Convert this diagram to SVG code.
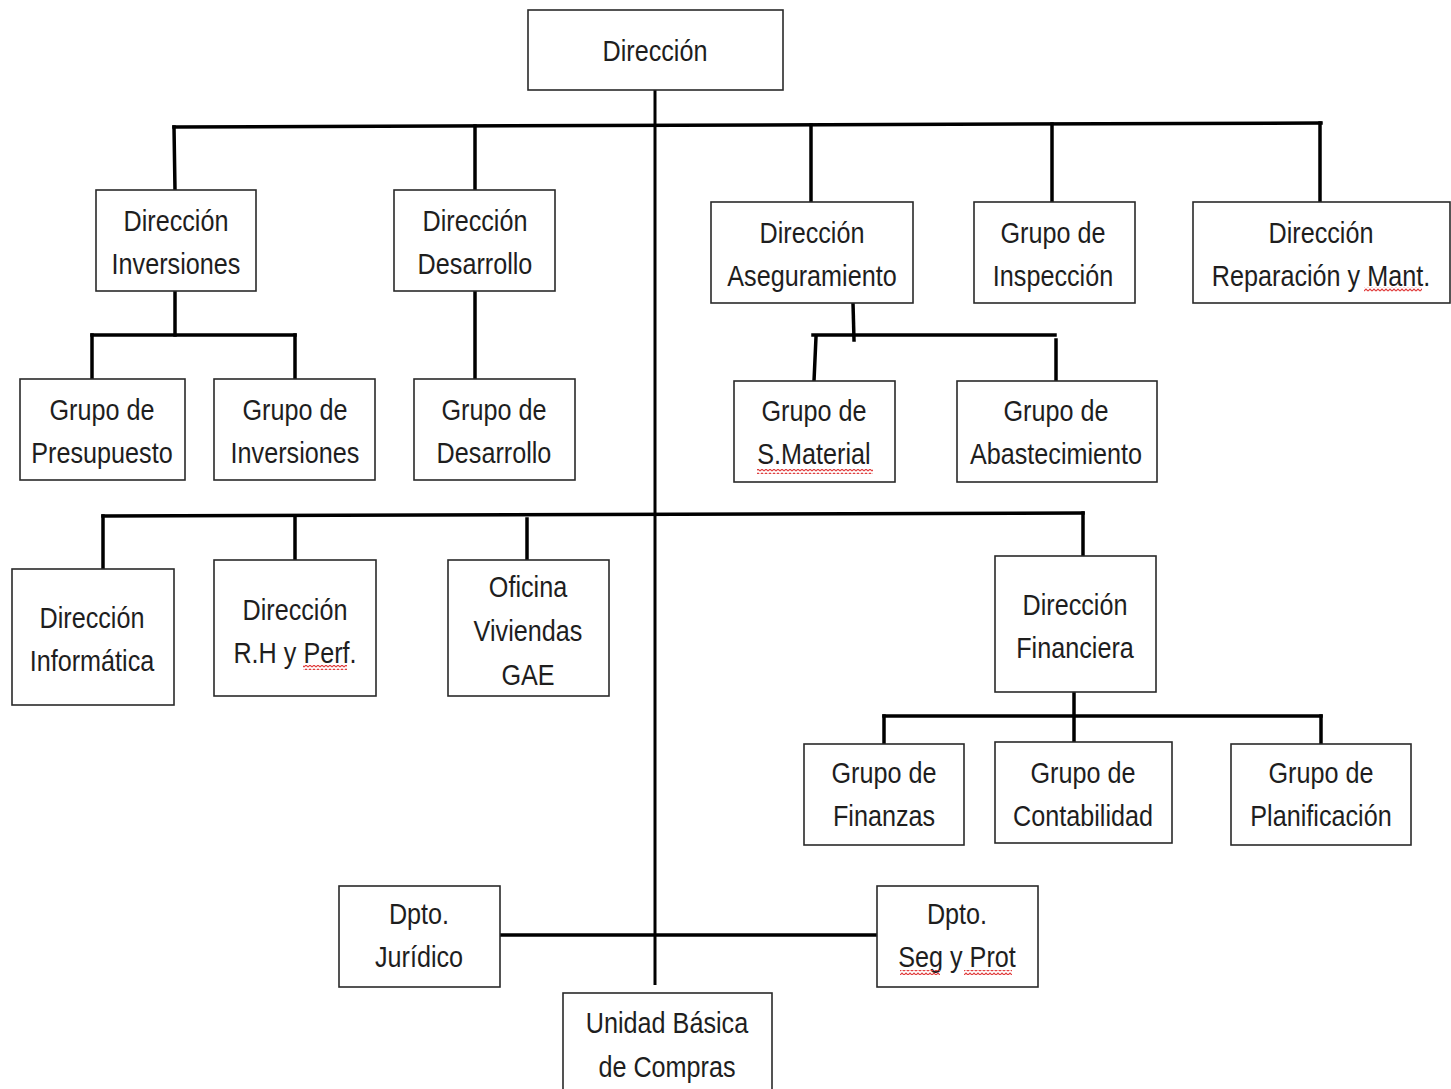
<svg xmlns="http://www.w3.org/2000/svg" width="1451" height="1089" viewBox="0 0 1451 1089">
  <style>
    .box { fill: #ffffff; stroke: #2a2a2a; stroke-width: 1.6; }
    .lbl { font-family: "Liberation Sans", Arial, sans-serif; font-size: 30px; fill: #1e1e1e; text-anchor: middle; }
    .wire { stroke: #000000; stroke-width: 3.5; fill: none; stroke-linecap: square; }
    .trunk { stroke: #000000; stroke-width: 3; fill: none; }
    .spell { stroke: #e03a3a; stroke-width: 1.2; fill: none; }
  </style>
  <defs>
    <pattern id="wave" width="4" height="4" patternUnits="userSpaceOnUse">
      <path d="M0,3 L2,1 L4,3" stroke="#e03a3a" stroke-width="1.1" fill="none"/>
    </pattern>
  </defs>
  <rect width="1451" height="1089" fill="#ffffff"/>

  <!-- connectors -->
  <g id="connectors">
    <line class="trunk" x1="655" y1="90" x2="655" y2="985"/>
    <!-- top level bar -->
    <line class="wire" x1="174" y1="127" x2="1321" y2="123"/>
    <line class="wire" x1="174" y1="127" x2="175" y2="190"/>
    <line class="wire" x1="475" y1="126" x2="475" y2="190"/>
    <line class="wire" x1="811" y1="125" x2="811" y2="202"/>
    <line class="wire" x1="1052" y1="124" x2="1052" y2="202"/>
    <line class="wire" x1="1320" y1="123" x2="1320" y2="202"/>
    <!-- Inversiones -->
    <line class="wire" x1="175" y1="291" x2="175" y2="335"/>
    <line class="wire" x1="92" y1="335" x2="295" y2="335"/>
    <line class="wire" x1="92" y1="335" x2="92" y2="379"/>
    <line class="wire" x1="295" y1="335" x2="295" y2="379"/>
    <!-- Desarrollo -->
    <line class="wire" x1="475" y1="291" x2="475" y2="379"/>
    <!-- Aseguramiento -->
    <line class="wire" x1="853" y1="303" x2="854" y2="340"/>
    <line class="wire" x1="813" y1="335" x2="1055" y2="335"/>
    <line class="wire" x1="816" y1="337" x2="814" y2="381"/>
    <line class="wire" x1="1056" y1="340" x2="1056" y2="381"/>
    <!-- second level bar -->
    <line class="wire" x1="103" y1="516" x2="1083" y2="513"/>
    <line class="wire" x1="103" y1="516" x2="103" y2="581"/>
    <line class="wire" x1="295" y1="516" x2="295" y2="560"/>
    <line class="wire" x1="527" y1="519" x2="527" y2="560"/>
    <line class="wire" x1="1083" y1="513" x2="1083" y2="556"/>
    <!-- Financiera -->
    <line class="wire" x1="1074" y1="692" x2="1074" y2="742"/>
    <line class="wire" x1="884" y1="716" x2="1321" y2="716"/>
    <line class="wire" x1="884" y1="716" x2="884" y2="744"/>
    <line class="wire" x1="1321" y1="716" x2="1321" y2="744"/>
    <!-- staff departments -->
    <line class="wire" x1="500" y1="935" x2="877" y2="935"/>
  </g>

  <g id="n-direccion">
    <rect class="box" x="528" y="10" width="255" height="80"/>
    <text class="lbl" transform="matrix(0.84 0 0 1 655 61)">Dirección</text>
  </g>

  <g id="n-dir-inversiones">
    <rect class="box" x="96" y="190" width="160" height="101"/>
    <text class="lbl" transform="matrix(0.84 0 0 1 176 231)">Dirección</text>
    <text class="lbl" transform="matrix(0.84 0 0 1 176 274)">Inversiones</text>
  </g>

  <g id="n-dir-desarrollo">
    <rect class="box" x="394" y="190" width="161" height="101"/>
    <text class="lbl" transform="matrix(0.84 0 0 1 475 231)">Dirección</text>
    <text class="lbl" transform="matrix(0.84 0 0 1 475 274)">Desarrollo</text>
  </g>

  <g id="n-dir-aseguramiento">
    <rect class="box" x="711" y="202" width="202" height="101"/>
    <text class="lbl" transform="matrix(0.84 0 0 1 812 243)">Dirección</text>
    <text class="lbl" transform="matrix(0.84 0 0 1 812 286)">Aseguramiento</text>
  </g>

  <g id="n-grupo-inspeccion">
    <rect class="box" x="974" y="202" width="161" height="101"/>
    <text class="lbl" transform="matrix(0.84 0 0 1 1053 243)">Grupo de</text>
    <text class="lbl" transform="matrix(0.84 0 0 1 1053 286)">Inspección</text>
  </g>

  <g id="n-dir-reparacion">
    <rect class="box" x="1193" y="202" width="257" height="101"/>
    <text class="lbl" transform="matrix(0.84 0 0 1 1321 243)">Dirección</text>
    <text class="lbl" transform="matrix(0.84 0 0 1 1321 286)">Reparación y Mant.</text>
    <rect x="1364" y="287" width="58" height="5" fill="url(#wave)"/>
  </g>

  <g id="n-grupo-presupuesto">
    <rect class="box" x="20" y="379" width="165" height="101"/>
    <text class="lbl" transform="matrix(0.84 0 0 1 102 420)">Grupo de</text>
    <text class="lbl" transform="matrix(0.84 0 0 1 102 463)">Presupuesto</text>
  </g>

  <g id="n-grupo-inversiones">
    <rect class="box" x="214" y="379" width="161" height="101"/>
    <text class="lbl" transform="matrix(0.84 0 0 1 295 420)">Grupo de</text>
    <text class="lbl" transform="matrix(0.84 0 0 1 295 463)">Inversiones</text>
  </g>

  <g id="n-grupo-desarrollo">
    <rect class="box" x="414" y="379" width="161" height="101"/>
    <text class="lbl" transform="matrix(0.84 0 0 1 494 420)">Grupo de</text>
    <text class="lbl" transform="matrix(0.84 0 0 1 494 463)">Desarrollo</text>
  </g>

  <g id="n-grupo-smaterial">
    <rect class="box" x="734" y="381" width="161" height="101"/>
    <text class="lbl" transform="matrix(0.84 0 0 1 814 421)">Grupo de</text>
    <text class="lbl" transform="matrix(0.84 0 0 1 814 464)">S.Material</text>
    <rect x="757" y="469" width="116" height="5" fill="url(#wave)"/>
  </g>

  <g id="n-grupo-abastecimiento">
    <rect class="box" x="957" y="381" width="200" height="101"/>
    <text class="lbl" transform="matrix(0.84 0 0 1 1056 421)">Grupo de</text>
    <text class="lbl" transform="matrix(0.84 0 0 1 1056 464)">Abastecimiento</text>
  </g>

  <g id="n-dir-informatica">
    <rect class="box" x="12" y="569" width="162" height="136"/>
    <text class="lbl" transform="matrix(0.84 0 0 1 92 628)">Dirección</text>
    <text class="lbl" transform="matrix(0.84 0 0 1 92 671)">Informática</text>
  </g>

  <g id="n-dir-rh">
    <rect class="box" x="214" y="560" width="162" height="136"/>
    <text class="lbl" transform="matrix(0.84 0 0 1 295 620)">Dirección</text>
    <text class="lbl" transform="matrix(0.84 0 0 1 295 663)">R.H y Perf.</text>
    <rect x="303" y="665" width="44" height="5" fill="url(#wave)"/>
  </g>

  <g id="n-oficina-viviendas">
    <rect class="box" x="448" y="560" width="161" height="136"/>
    <text class="lbl" transform="matrix(0.84 0 0 1 528 597)">Oficina</text>
    <text class="lbl" transform="matrix(0.84 0 0 1 528 641)">Viviendas</text>
    <text class="lbl" transform="matrix(0.84 0 0 1 528 685)">GAE</text>
  </g>

  <g id="n-dir-financiera">
    <rect class="box" x="995" y="556" width="161" height="136"/>
    <text class="lbl" transform="matrix(0.84 0 0 1 1075 615)">Dirección</text>
    <text class="lbl" transform="matrix(0.84 0 0 1 1075 658)">Financiera</text>
  </g>

  <g id="n-grupo-finanzas">
    <rect class="box" x="804" y="744" width="160" height="101"/>
    <text class="lbl" transform="matrix(0.84 0 0 1 884 783)">Grupo de</text>
    <text class="lbl" transform="matrix(0.84 0 0 1 884 826)">Finanzas</text>
  </g>

  <g id="n-grupo-contabilidad">
    <rect class="box" x="995" y="742" width="177" height="101"/>
    <text class="lbl" transform="matrix(0.84 0 0 1 1083 783)">Grupo de</text>
    <text class="lbl" transform="matrix(0.84 0 0 1 1083 826)">Contabilidad</text>
  </g>

  <g id="n-grupo-planificacion">
    <rect class="box" x="1231" y="744" width="180" height="101"/>
    <text class="lbl" transform="matrix(0.84 0 0 1 1321 783)">Grupo de</text>
    <text class="lbl" transform="matrix(0.84 0 0 1 1321 826)">Planificación</text>
  </g>

  <g id="n-dpto-juridico">
    <rect class="box" x="339" y="886" width="161" height="101"/>
    <text class="lbl" transform="matrix(0.84 0 0 1 419 924)">Dpto.</text>
    <text class="lbl" transform="matrix(0.84 0 0 1 419 967)">Jurídico</text>
  </g>

  <g id="n-dpto-seg">
    <rect class="box" x="877" y="886" width="161" height="101"/>
    <text class="lbl" transform="matrix(0.84 0 0 1 957 924)">Dpto.</text>
    <text class="lbl" transform="matrix(0.84 0 0 1 957 967)">Seg y Prot</text>
    <rect x="900" y="970" width="40" height="5" fill="url(#wave)"/>
    <rect x="964" y="970" width="48" height="5" fill="url(#wave)"/>
  </g>

  <g id="n-unidad-compras">
    <rect class="box" x="563" y="993" width="209" height="110"/>
    <text class="lbl" transform="matrix(0.84 0 0 1 667 1033)">Unidad Básica</text>
    <text class="lbl" transform="matrix(0.84 0 0 1 667 1077)">de Compras</text>
  </g>
</svg>
